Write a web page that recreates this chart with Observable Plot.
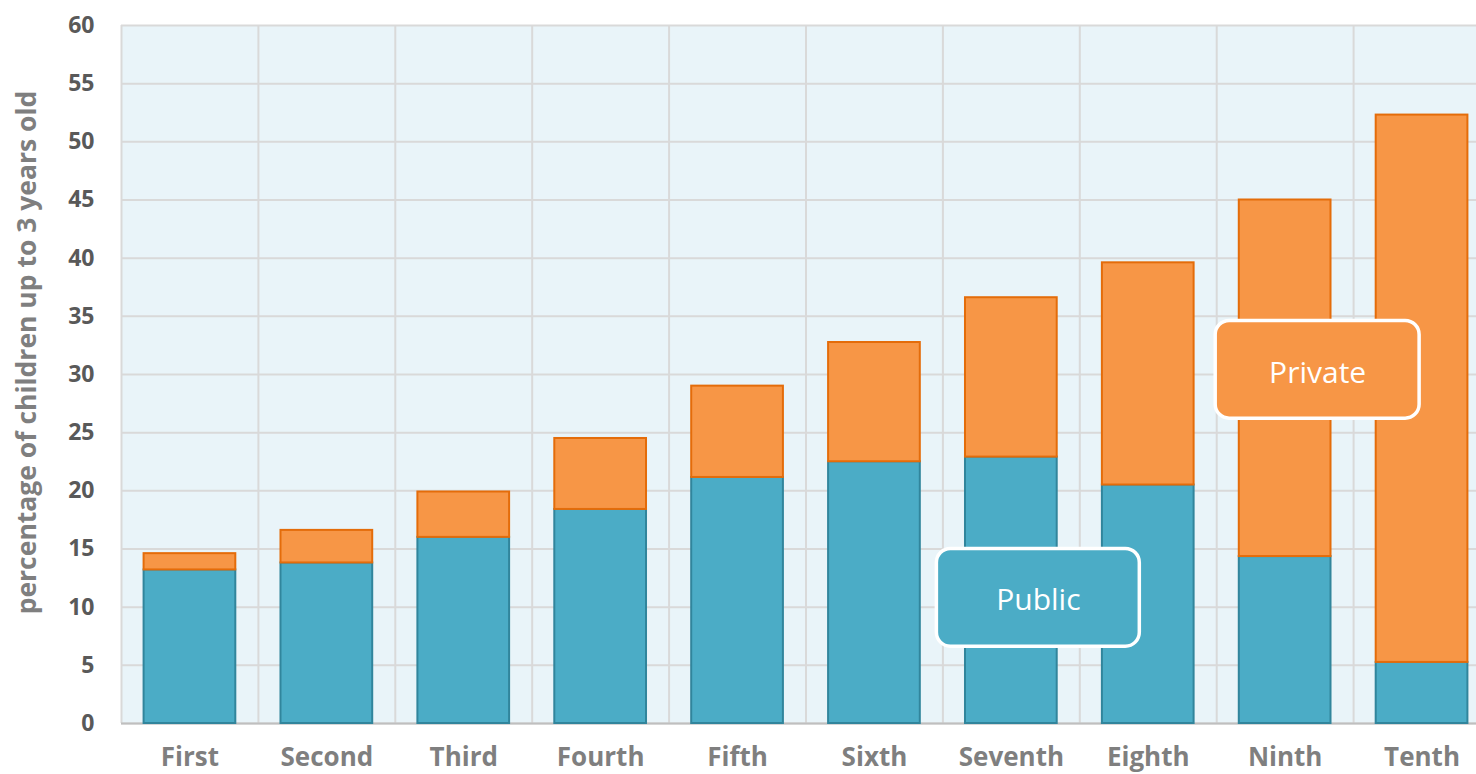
<!DOCTYPE html>
<html><head><meta charset="utf-8">
<script src="https://cdn.jsdelivr.net/npm/d3@7"></script>
<script src="https://cdn.jsdelivr.net/npm/@observablehq/plot@0.6"></script>
<style>
html,body{margin:0;padding:0;background:#fff;overflow:hidden}
svg{display:block}
</style>
</head><body><div id="chart"></div>
<script>
// ---- data ----
const deciles = ["First","Second","Third","Fourth","Fifth","Sixth","Seventh","Eighth","Ninth","Tenth"];
const publicValues  = [13.2, 13.8, 16.0, 18.4, 21.15, 22.5, 22.9, 20.5, 14.35, 5.25];
const privateValues = [1.4, 2.8, 3.9, 6.1, 7.85, 10.25, 13.7, 19.1, 30.65, 47.05];
const seriesNames = ["Public", "Private"];
const yTicks = [0,5,10,15,20,25,30,35,40,45,50,55,60];
const yLabel = "percentage of children up to 3 years old";

const rows = [];
deciles.forEach((d, i) => {
  rows.push({decile: d, series: "Public", value: publicValues[i]});
  rows.push({decile: d, series: "Private", value: privateValues[i]});
});

// ---- layout / style ----
const W = 1476, H = 774;
const mL = 121, mR = -14, mT = 25, mB = 51;
const step = (W - mL - mR) / deciles.length;
const fillColors = ["#4bacc6", "#f79646"];
const strokeColors = ["#31859c", "#e46c0a"];
const font = "'Open Sans', 'Noto Sans', sans-serif";

// legend callouts (anchored to a category + value range)
const callouts = [
  {label: "Public",  anchor: "Seventh", y1: 6.6,  y2: 15.0, ty: 10.6, fill: fillColors[0], dx: 27,   inL: -28.6, inR: -82.6},
  {label: "Private", anchor: "Ninth",   y1: 26.2, y2: 34.6, ty: 30.1, fill: fillColors[1], dx: 32.5, inL: -23.6, inR: -88.6}
];

const marks = [
  Plot.frame({fill: "#e9f4f9", stroke: null}),
  Plot.gridY(yTicks, {stroke: "#d9d9d9", strokeOpacity: 1, strokeWidth: 2}),
  Plot.gridX(deciles, {stroke: "#d9d9d9", strokeOpacity: 1, strokeWidth: 2, dx: -step / 2}),
  Plot.ruleY([0], {stroke: "#bfbfbf", strokeWidth: 2}),
  Plot.barY(rows, {
    x: "decile", y: "value", fill: "series", stroke: "series",
    strokeWidth: 2, order: seriesNames
  }),
  Plot.axisY({ticks: yTicks, tickSize: 0, tickPadding: 27, fontSize: 23, fontWeight: "bold", fill: "#595959", label: null}),
  Plot.axisX({tickSize: 0, tickPadding: 24, fontSize: 26, fontWeight: "bold", fill: "#7f7f7f", label: null}),
  Plot.text([yLabel], {frameAnchor: "left", rotate: -90, textAnchor: "middle", dx: -94, dy: -22,
    fontSize: 26.5, fontWeight: "bold", fill: "#7f7f7f"})
];

callouts.forEach(c => {
  marks.push(Plot.barY([c], {
    x: "anchor", y1: "y1", y2: "y2", fill: c.fill, stroke: "white", strokeWidth: 3.5,
    rx: 14, insetLeft: c.inL, insetRight: c.inR
  }));
  marks.push(Plot.text([c], {x: "anchor", y: "ty", text: "label", dx: c.dx, fill: "white", fontSize: 30}));
});

const chart = Plot.plot({
  width: W, height: H,
  marginLeft: mL, marginRight: mR, marginTop: mT, marginBottom: mB,
  style: {fontFamily: font, background: "white", overflow: "hidden"},
  x: {domain: deciles, paddingInner: 0.33, paddingOuter: 0.165, round: false, axis: null},
  y: {domain: [0, 60], axis: null},
  color: {domain: seriesNames, range: fillColors},
  marks
});

// stroke colours per series (stroke channel uses the color scale; remap)
chart.querySelectorAll("rect").forEach(r => {
  const s = r.getAttribute("stroke");
  const idx = fillColors.indexOf(s);
  if (idx >= 0) r.setAttribute("stroke", strokeColors[idx]);
});

document.getElementById("chart").appendChild(chart);
</script>
</body></html>
